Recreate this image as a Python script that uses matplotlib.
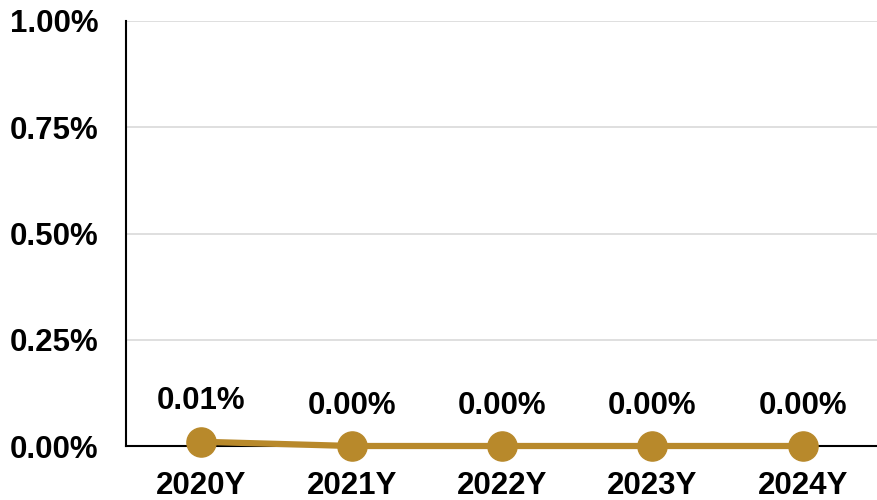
import matplotlib
matplotlib.use("Agg")
import matplotlib.pyplot as plt
from matplotlib.ticker import FuncFormatter

categories = ["2020Y", "2021Y", "2022Y", "2023Y", "2024Y"]
values = [0.01, 0.00, 0.00, 0.00, 0.00]
yticks = [0.0, 0.25, 0.5, 0.75, 1.0]

plt.rcParams['font.family'] = ['Liberation Sans', 'DejaVu Sans']
plt.rcParams['font.weight'] = 'bold'

color = '#B8892B'
fs = 22.5
fig = plt.figure(figsize=(8.78, 5.0), dpi=100)
ax = fig.add_axes([126/878, 54/500, (878-126)/878, (446-21)/500])

x = list(range(len(categories)))
ax.plot(x, values, color=color, lw=4.5, marker='o', markersize=21, zorder=3, clip_on=False)
for xi, v in zip(x, values):
    ax.annotate(f"{v:.2f}%", (xi, v), xytext=(0, 29), textcoords='offset points',
                ha='center', va='center', fontsize=fs, fontweight='bold', color='black')

ax.set_xlim(-0.5, len(categories) - 0.5)
ax.set_ylim(0, 1.0)
ax.set_yticks(yticks)
ax.yaxis.set_major_formatter(FuncFormatter(lambda v, p: f"{v:.2f}%"))
ax.set_xticks(x)
ax.set_xticklabels(categories)
ax.tick_params(axis='both', length=0, labelsize=fs)
ax.tick_params(axis='x', pad=18)
ax.tick_params(axis='y', pad=20)
for lab in ax.get_xticklabels() + ax.get_yticklabels():
    lab.set_fontweight('bold')
ax.grid(axis='y', color='#D9D9D9', lw=1.2, zorder=0)
ax.set_axisbelow(True)
for s in ['top', 'right']:
    ax.spines[s].set_visible(False)
ax.spines['left'].set_color('black')
ax.spines['left'].set_linewidth(1.5)
ax.spines['bottom'].set_color('black')
ax.spines['bottom'].set_linewidth(1.5)

fig.savefig("out.png", dpi=100)
